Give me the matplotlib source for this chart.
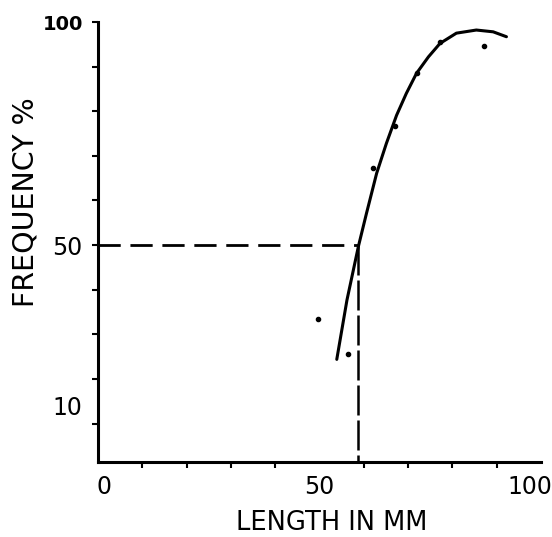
import matplotlib
matplotlib.use("Agg")
import matplotlib.pyplot as plt
from matplotlib.transforms import ScaledTranslation

# fitted curve (length mm, frequency %)
curve_x = [53.9, 56.2, 58.8, 60.6, 62.9, 65.1, 67.4, 69.6, 71.9, 74.6, 77.2, 80.9, 85.4, 89.2, 92.2]
curve_y = [24.4, 37.7, 49.8, 57.1, 66.1, 72.8, 79.1, 84.0, 88.5, 92.2, 95.2, 97.5, 98.2, 97.8, 96.7]

# observed points
obs_x = [49.7, 56.4, 62.0, 67.0, 72.0, 77.2, 87.1]
obs_y = [33.4, 25.6, 67.3, 76.7, 88.6, 95.5, 94.6]

# 50 % length
l50_x = 58.6
l50_y = 50

xticks = [0, 50, 100]
yticks = [10, 50, 100]

plt.rcParams['font.family'] = ['DejaVu Sans']

fig = plt.figure(figsize=(5.52, 5.37), dpi=100)
ax = fig.add_axes([98 / 552, 75 / 537, 443 / 552, 440 / 537])

ax.plot(curve_x, curve_y, color='black', lw=2.2, solid_capstyle='round')
ax.plot(obs_x, obs_y, 'o', color='black', ms=3)

ax.plot([0, l50_x], [l50_y, l50_y], color='black', lw=2.0, dashes=(8, 3.5))
ax.plot([l50_x, l50_x], [l50_y, 1.4], color='black', lw=1.8, dashes=(12, 2))

ax.set_xlim(0, 100)
ax.set_ylim(1.4, 100)
ax.spines['top'].set_visible(False)
ax.spines['right'].set_visible(False)
ax.spines['left'].set_linewidth(2.2)
ax.spines['bottom'].set_linewidth(2.2)

ax.set_xticks(range(10, 100, 10), minor=True)
ax.set_yticks(range(10, 100, 10), minor=True)
ax.set_xticks(xticks)
ax.set_yticks(yticks)
ax.set_xticklabels([str(v) for v in xticks], fontsize=17)
ax.set_yticklabels([str(v) for v in yticks], fontsize=17)
ax.tick_params(axis='both', which='both', width=1.5, direction='out')
ax.tick_params(axis='x', which='major', length=0, pad=9)
ax.tick_params(axis='y', which='major', length=4, pad=7)
ax.tick_params(axis='x', which='minor', length=4)
ax.tick_params(axis='y', which='minor', length=4)

ylabs = ax.get_yticklabels()
ylabs[-1].set_fontweight('bold')
ylabs[-1].set_fontsize(14)
ylabs[0].set_transform(ylabs[0].get_transform() + ScaledTranslation(0, 13 / 72, fig.dpi_scale_trans))
xlabs = ax.get_xticklabels()
xlabs[0].set_transform(xlabs[0].get_transform() + ScaledTranslation(4 / 72, 0, fig.dpi_scale_trans))
xlabs[-1].set_transform(xlabs[-1].get_transform() + ScaledTranslation(-8 / 72, 0, fig.dpi_scale_trans))

ax.set_xlabel('LENGTH IN MM', fontsize=18.5, va='top')
ax.xaxis.set_label_coords(0.528, -0.108)
ax.set_ylabel('FREQUENCY %', fontsize=20.5)
ax.yaxis.set_label_coords(-0.132, 0.591)

fig.savefig('out.png', dpi=100)
